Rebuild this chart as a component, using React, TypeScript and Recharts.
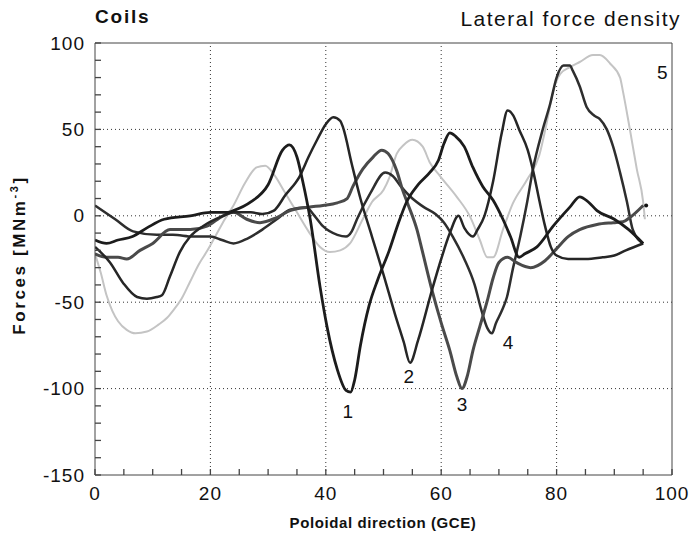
import React from "react"
import { LineChart, Line, XAxis, YAxis, ReferenceLine, ReferenceDot } from "recharts"

// Lateral force density on coils 1-5 vs poloidal direction (GCE)
const c1x = [0, 2, 4, 6.5, 9, 12, 16.5, 20, 23, 24, 27, 30, 32.5, 33.7, 35, 36, 37.3, 39, 40.2, 42, 43.5, 44.3, 45, 46, 47.5, 49, 51, 52.5, 54, 56, 58, 59.5, 60.5, 61.5, 62.5, 64, 65.5, 67.2, 69, 70.7, 72, 73.5, 74.5, 76.6, 79.4, 82.3, 84, 85.5, 87, 90, 92.5, 95]
const c1y = [-14, -16, -14, -12, -7, -2, 0, 2, 2, 3, 8, 18, 38, 41, 34, 20, -2, -41, -64, -89, -101, -102, -95, -75, -52, -37, -20, -5, 8, 18, 25, 32, 42, 48, 46, 40, 28, 17, 9, -2, -12, -24, -22, -18, -6, 5, 11, 8, 3, -2, -8, -16]

const c2x = [0, 2.6, 4.9, 7.3, 9, 10.7, 11.6, 13, 14.7, 16.5, 18.7, 22.2, 24, 27, 29, 31, 33, 35.5, 37, 38.5, 40, 41.3, 42.5, 43, 44.5, 46, 48, 50, 52, 53.5, 54.6, 56, 58.4, 60, 61.5, 63, 64, 65.5, 66.3, 67.5, 69, 70.5, 71.5, 72.5, 73.5, 75, 76, 77, 78, 79, 80, 82, 85, 88, 90, 92, 95]
const c2y = [-18, -27, -39, -47, -48, -47, -46, -35, -21, -12, -6, 0, 2, 2, 1, 3, 12, 23, 34, 44, 53, 57, 55, 51, 30, 10, -12, -34, -57, -73, -85, -72, -43, -25, -10, 0, -7, -12, -8, 0, 20, 48, 61, 58, 50, 38, 25, 9, -6, -18, -23, -25, -25, -24, -23, -20, -16]

const c3x = [0, 2, 4, 5.5, 7.8, 10, 13, 16.5, 19.4, 22.2, 24, 26.3, 28.6, 31.5, 33.8, 37, 39.5, 42, 43.7, 44.7, 46.4, 48.2, 49.7, 50.8, 52.3, 53.3, 54.2, 55.8, 56.7, 58.4, 60, 61.5, 62.7, 63.6, 64.5, 65.5, 66.7, 68, 69, 70, 71.5, 73, 75.5, 78, 80, 82, 84, 87, 89.8, 91.5, 92.7, 95]
const c3y = [-22, -24, -24, -25, -20, -16, -8, -8, -6, 0, 2, -2, -4, -1, 3, 5, 6, 7.5, 10, 17, 27, 34, 38, 36, 26, 15, 7, -8, -20, -43, -62, -78, -93, -100, -93, -78, -64, -49, -36, -27, -24, -27, -30, -26, -19, -12, -8, -5, -4, -3.5, -1, 6]

const c4x = [0, 3.5, 6.6, 10.7, 13.5, 17, 20, 22, 24, 26.5, 29, 31.5, 33.8, 36.7, 37.8, 39.5, 42, 43.5, 44.5, 45.4, 47.7, 50.3, 51.6, 53, 55, 57, 59, 60.5, 62, 64, 65.8, 67, 68, 68.8, 69.5, 70.5, 71.4, 72.4, 73.7, 74.9, 75.9, 77.6, 78.9, 80, 81.2, 82.3, 82.8, 84, 85.2, 86.5, 87.5, 88.7, 89.8, 91, 92.2, 93.2, 95]
const c4y = [6, -2, -9, -11, -11, -12, -12, -14, -16, -13, -8, -2, 3.5, 5, 1, -6, -11, -12, -9, -2, 13, 25, 23, 17, 10, 5, 1, -4, -12, -25, -40, -55, -65, -68, -62, -55, -47, -31, -12, 8, 27, 50, 65, 80, 87, 87, 84, 75, 63, 58, 56, 50, 40, 25, 8, -8, -16]

const c5x = [0, 1, 2, 3, 4, 5.5, 7, 9, 11, 12.5, 13.5, 15, 16.5, 18, 19.5, 21, 22.5, 24, 26, 28, 29.5, 31, 33, 35, 37, 39, 40.7, 42.5, 44.2, 46.4, 48, 50, 51, 52.3, 53.5, 55, 56.8, 58, 59.8, 62.7, 65, 66.7, 68, 69, 70.7, 72.4, 74.9, 77, 78.3, 79.4, 80.6, 82.3, 84, 86.3, 87.5, 89.3, 91, 91.5, 92.7, 93.9, 95, 95.3]
const c5y = [-22, -33, -46, -55, -61, -66, -68, -67, -63, -59, -55, -48, -38, -28, -20, -11, -2, 6, 19, 28, 29, 24, 13, 2, -9, -18, -21, -20, -16, -2, 8, 15, 22, 36, 41, 44, 40, 31, 23, 11, -0.5, -14, -24, -24, -8, 7, 21, 35, 54, 72, 82, 86, 89, 93, 93, 88, 80, 72, 50, 27, 8, -2]

const xTicks = [0, 20, 40, 60, 80, 100]
const yTicks = [-150, -100, -50, 0, 50, 100]
const xGrid = [20, 40, 60, 80]
const yGrid = [-100, -50, 0, 50]
const xMinor = [0, 5, 10, 15, 20, 25, 30, 35, 40, 45, 50, 55, 60, 65, 70, 75, 80, 85, 90, 95, 100]
const yMinor = [-150, -140, -130, -120, -110, -100, -90, -80, -70, -60, -50, -40, -30, -20, -10, 0, 10, 20, 30, 40, 50, 60, 70, 80, 90, 100]

const curveNames = ["1", "2", "3", "4", "5"]
const labelX = [43.8, 54.4, 63.6, 71.6, 98.3]
const labelY = [-113, -93, -109, -73, 83]

const toPoints = (xs: number[], ys: number[]) => xs.map((x, i) => ({ x, y: ys[i] }))

const d1 = toPoints(c1x, c1y)
const d2 = toPoints(c2x, c2y)
const d3 = toPoints(c3x, c3y)
const d4 = toPoints(c4x, c4y)
const d5 = toPoints(c5x, c5y)

const font = "'Liberation Sans', Arial, Helvetica, sans-serif"
const frame = "#444"
const TICK = 6

// bottom axis: label under the frame, short tick pointing up into the plot
const BottomTick = (props: any) => {
  const { x, y, payload } = props
  const major = xTicks.includes(payload.value)
  return (
    <g>
      <line x1={x} x2={x} y1={y - 10} y2={y - 10 - TICK} stroke={frame} strokeWidth={1.3} />
      {major && (
        <text x={x} y={y} dy="0.8em" textAnchor="middle" fontSize={19} fill="#111" fontFamily={font} letterSpacing={1}>
          {payload.value}
        </text>
      )}
    </g>
  )
}

// left axis: label left of the frame, short tick pointing right into the plot
const LeftTick = (props: any) => {
  const { x, y, payload } = props
  const major = yTicks.includes(payload.value)
  return (
    <g>
      <line x1={x + 10} x2={x + 10 + TICK} y1={y} y2={y} stroke={frame} strokeWidth={1.3} />
      {major && (
        <text x={x} y={y} dy="0.35em" textAnchor="end" fontSize={19} fill="#111" fontFamily={font} letterSpacing={1}>
          {payload.value}
        </text>
      )}
    </g>
  )
}

const TopTick = (props: any) => (
  <line x1={props.x} x2={props.x} y1={props.y} y2={props.y + TICK} stroke={frame} strokeWidth={1.3} />
)

const RightTick = (props: any) => (
  <line x1={props.x} x2={props.x - TICK} y1={props.y} y2={props.y} stroke={frame} strokeWidth={1.3} />
)

export default function App() {
  const endDot = (props: any) =>
    props.index === d3.length - 1 ? (
      <circle key={`e${props.index}`} cx={props.cx + 3} cy={props.cy} r={2} fill="#111" />
    ) : (
      <g key={`e${props.index}`} />
    )

  return (
    <div style={{ position: "absolute", left: 0, top: 0, width: 691, height: 534, background: "#fff", fontFamily: font }}>
      {/* titles */}
      <div style={{ position: "absolute", left: 95, top: 6, fontSize: 19, fontWeight: 700, letterSpacing: 1.8, color: "#111" }}>
        Coils
      </div>
      <div style={{ position: "absolute", right: 10, top: 7, fontSize: 21, letterSpacing: 1.5, color: "#111" }}>
        Lateral force density
      </div>
      <div
        style={{
          position: "absolute",
          left: 19,
          top: 255,
          transform: "translate(-50%, -50%) rotate(-90deg)",
          whiteSpace: "nowrap",
          fontSize: 17,
          fontWeight: 700,
          letterSpacing: 2.6,
          color: "#111",
        }}
      >
        Forces [MNm<sup style={{ fontSize: 11 }}>-3</sup>]
      </div>
      <div
        style={{
          position: "absolute",
          left: 383,
          top: 522,
          transform: "translate(-50%, -50%)",
          whiteSpace: "nowrap",
          fontSize: 15,
          fontWeight: 700,
          letterSpacing: 0.6,
          color: "#111",
        }}
      >
        Poloidal direction (GCE)
      </div>

      <LineChart width={691} height={534} margin={{ top: 43, right: 19, bottom: 29, left: 35 }}>
        {/* dotted grid at the major values */}
        {xGrid.map((v) => (
          <ReferenceLine key={`gx${v}`} x={v} stroke="#333" strokeDasharray="1 3" />
        ))}
        {yGrid.map((v) => (
          <ReferenceLine key={`gy${v}`} y={v} stroke="#333" strokeDasharray="1 3" />
        ))}

        <XAxis
          type="number"
          dataKey="x"
          domain={[0, 100]}
          ticks={xMinor}
          interval={0}
          allowDataOverflow
          height={30}
          tickSize={6}
          tickMargin={4}
          tickLine={false}
          axisLine={{ stroke: frame }}
          tick={BottomTick}
        />
        <YAxis
          type="number"
          domain={[-150, 100]}
          ticks={yMinor}
          interval={0}
          allowDataOverflow
          width={60}
          tickSize={6}
          tickMargin={4}
          tickLine={false}
          axisLine={{ stroke: frame }}
          tick={LeftTick}
        />
        {/* top and right frame with inward ticks */}
        <XAxis xAxisId="top" type="number" dataKey="x" domain={[0, 100]} ticks={xMinor} interval={0} allowDataOverflow orientation="top" height={0} tickSize={0} tickMargin={0} tick={TopTick} tickLine={false} axisLine={{ stroke: frame }} />
        <YAxis yAxisId="right" type="number" domain={[-150, 100]} ticks={yMinor} interval={0} allowDataOverflow orientation="right" width={0} tickSize={0} tickMargin={0} tick={RightTick} tickLine={false} axisLine={{ stroke: frame }} />
        <Line data={d1} dataKey="y" xAxisId="top" yAxisId="right" stroke="none" dot={false} activeDot={false} legendType="none" isAnimationActive={false} />
        <ReferenceLine x={100} stroke={frame} />
        <ReferenceLine y={100} stroke={frame} />

        <Line data={d5} dataKey="y" type="monotone" stroke="#c4c4c4" strokeWidth={2} dot={false} isAnimationActive={false} />
        <Line data={d4} dataKey="y" type="monotone" stroke="#2e2e2e" strokeWidth={2.5} dot={false} isAnimationActive={false} />
        <Line data={d3} dataKey="y" type="monotone" stroke="#4a4a4a" strokeWidth={3} dot={endDot} isAnimationActive={false} />
        <Line data={d2} dataKey="y" type="monotone" stroke="#262626" strokeWidth={2.5} dot={false} isAnimationActive={false} />
        <Line data={d1} dataKey="y" type="monotone" stroke="#1c1c1c" strokeWidth={2.8} dot={false} isAnimationActive={false} />

        {curveNames.map((name, i) => (
          <ReferenceDot
            key={name}
            x={labelX[i]}
            y={labelY[i]}
            r={0}
            fill="none"
            stroke="none"
            label={{ value: name, position: "center", fontSize: 19, fill: "#111", fontFamily: font }}
          />
        ))}
      </LineChart>
    </div>
  )
}
